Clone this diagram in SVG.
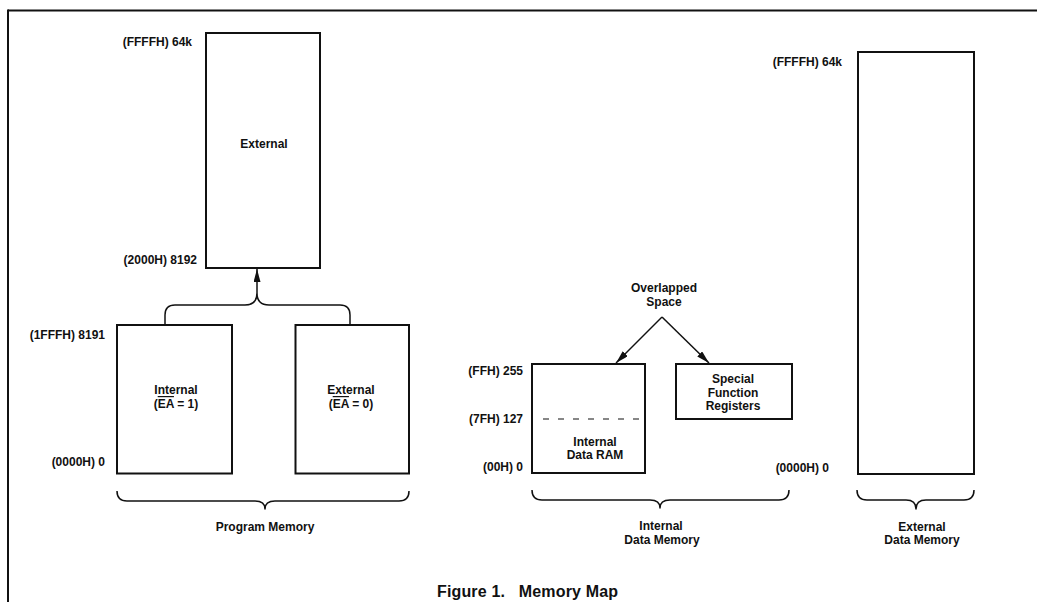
<svg xmlns="http://www.w3.org/2000/svg" width="1037" height="602" viewBox="0 0 1037 602">
  <style>
    .box { fill: none; stroke: #111; stroke-width: 2; }
    .frame { fill: none; stroke: #111; stroke-width: 2; }
    .brace { fill: none; stroke: #111; stroke-width: 1.5; stroke-linejoin: round; }
    .conn { fill: none; stroke: #111; stroke-width: 1.5; }
    .dash { fill: none; stroke: #111; stroke-width: 1.2; stroke-dasharray: 6 9; }
    text { font-family: "Liberation Sans", Arial, Helvetica, sans-serif; font-weight: bold; font-size: 12px; fill: #111; }
    .mid { text-anchor: middle; }
    .end { text-anchor: end; }
    .cap { font-size: 16px; }
    .ov { text-decoration: overline; }
  </style>
  <defs>
    <marker id="ah" markerUnits="userSpaceOnUse" markerWidth="14" markerHeight="10" refX="13" refY="3.5" orient="auto">
      <path d="M0,0 L13,3.5 L0,7 z" fill="#111"/>
    </marker>
  </defs>

  <g id="frame">
    <line class="frame" x1="8" y1="10.5" x2="1037" y2="10.5"/>
    <line class="frame" x1="8" y1="9.5" x2="8" y2="602"/>
  </g>

  <g id="prog-external">
    <rect class="box" x="206" y="33" width="114" height="235"/>
    <text class="mid" x="264" y="148">External</text>
    <text class="end" x="192" y="46">(FFFFH) 64k</text>
    <text class="end" x="197" y="264">(2000H) 8192</text>
  </g>

  <g id="prog-internal">
    <rect class="box" x="117" y="325" width="115" height="148.5"/>
    <text class="mid" x="176" y="394">Internal</text>
    <text class="mid" x="176" y="408">(<tspan class="ov">EA</tspan> = 1)</text>
    <text class="end" x="105" y="339">(1FFFH) 8191</text>
    <text class="end" x="105" y="466">(0000H) 0</text>
  </g>

  <g id="prog-external-ea0">
    <rect class="box" x="295.5" y="325" width="113.5" height="148.5"/>
    <text class="mid" x="351" y="394">External</text>
    <text class="mid" x="351" y="408">(<tspan class="ov">EA</tspan> = 0)</text>
  </g>

  <g id="overlapped-space">
    <text class="mid" x="664" y="292">Overlapped</text>
    <text class="mid" x="664" y="306">Space</text>
  </g>

  <g id="int-data-ram">
    <rect class="box" x="532" y="364" width="113" height="109"/>
    <line class="dash" x1="543" y1="419" x2="645" y2="419"/>
    <text class="mid" x="595" y="446">Internal</text>
    <text class="mid" x="595" y="459">Data RAM</text>
    <text class="end" x="523" y="375">(FFH) 255</text>
    <text class="end" x="523" y="423">(7FH) 127</text>
    <text class="end" x="523" y="471">(00H) 0</text>
  </g>

  <g id="sfr">
    <rect class="box" x="676" y="364" width="116" height="55"/>
    <text class="mid" x="733" y="382.5">Special</text>
    <text class="mid" x="733" y="396.5">Function</text>
    <text class="mid" x="733" y="410">Registers</text>
  </g>

  <g id="ext-data">
    <rect class="box" x="858" y="52" width="116" height="422"/>
    <text class="end" x="842" y="66">(FFFFH) 64k</text>
    <text class="end" x="829" y="472">(0000H) 0</text>
  </g>

  <g id="connectors">
    <path class="conn" d="M165,325 L165,315 Q165,305 175,305 L245,305 Q257,305 257,293 Q257,305 269,305 L340,305 Q350,305 350,315 L350,325"/>
    <line class="conn" x1="257" y1="293" x2="257" y2="269" marker-end="url(#ah)"/>
    <line class="conn" x1="662" y1="317" x2="616" y2="363" marker-end="url(#ah)"/>
    <line class="conn" x1="662" y1="317" x2="709" y2="363" marker-end="url(#ah)"/>
  </g>

  <g id="braces">
    <path class="brace" d="M117,491 Q117,501 127,501 L255,501 Q265,501 265,509 Q265,501 275,501 L399,501 Q409,501 409,491"/>
    <path class="brace" d="M532,490 Q532,500 542,500 L650,500 Q660,500 660,508 Q660,500 670,500 L779,500 Q789,500 789,490"/>
    <path class="brace" d="M857,490 Q857,500 867,500 L906,500 Q916,500 916,509 Q916,500 926,500 L964,500 Q974,500 974,490"/>
  </g>

  <g id="brace-labels">
    <text class="mid" x="265" y="531">Program Memory</text>
    <text class="mid" x="661" y="530">Internal</text>
    <text class="mid" x="662" y="544">Data Memory</text>
    <text class="mid" x="922" y="531">External</text>
    <text class="mid" x="922" y="544">Data Memory</text>
  </g>

  <g id="caption">
    <text class="cap" x="437" y="597" textLength="181" lengthAdjust="spacing">Figure 1.&#160;&#160; Memory Map</text>
  </g>
</svg>
